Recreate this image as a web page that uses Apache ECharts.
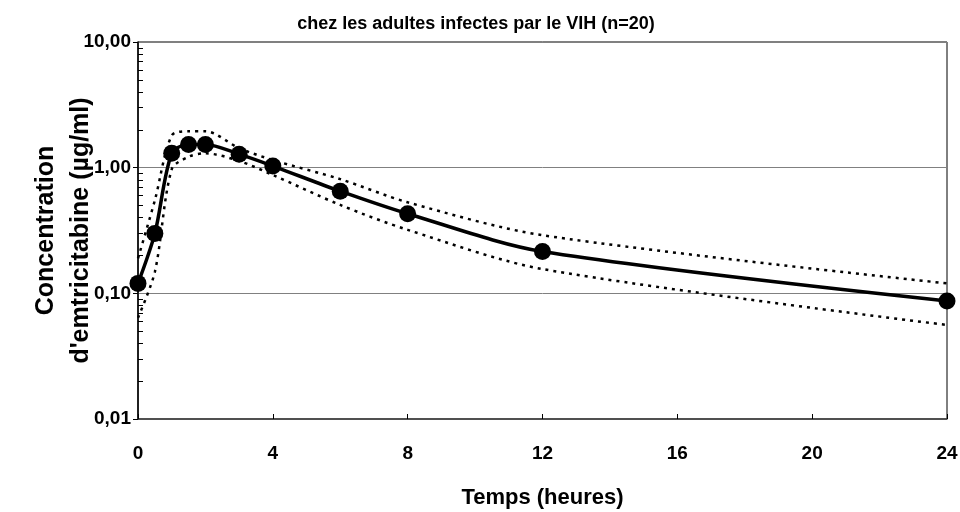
<!DOCTYPE html>
<html>
<head>
<meta charset="utf-8">
<script src="https://cdn.jsdelivr.net/npm/echarts@6/dist/echarts.min.js"></script>
<style>html,body{margin:0;padding:0;background:#fff;}#c{width:960px;height:512px;}</style>
</head>
<body>
<div id="c"></div>
<script>
var times = [0, 0.5, 1, 1.5, 2, 3, 4, 6, 8, 12, 24];
var meanConc = [0.12, 0.30, 1.30, 1.53, 1.53, 1.28, 1.03, 0.65, 0.43, 0.215, 0.087];
var upperConc = [0.19, 0.55, 1.80, 1.95, 1.95, 1.43, 1.15, 0.81, 0.53, 0.29, 0.12];
var lowerConc = [0.064, 0.148, 0.97, 1.22, 1.30, 1.13, 0.875, 0.505, 0.32, 0.156, 0.056];
var xTicks = [0, 4, 8, 12, 16, 20, 24];
var yMinorTicks = [0.02,0.03,0.04,0.05,0.06,0.07,0.08,0.09,0.2,0.3,0.4,0.5,0.6,0.7,0.8,0.9,2,3,4,5,6,7,8,9];

var FONT = "'Liberation Sans', Arial, sans-serif";
function pairs(vals){ return times.map(function(t,i){ return [t, vals[i]]; }); }

var chart = echarts.init(document.getElementById('c'), null, {renderer:'canvas'});
chart.setOption({
  animation: false,
  backgroundColor: '#fff',
  title: {
    text: 'chez les adultes infectes par le VIH (n=20)',
    left: 471, top: 10, textAlign: 'center',
    textStyle: {fontFamily: FONT, fontWeight: 'bold', fontSize: 18, color: '#000'}
  },
  grid: {left: 138, right: 13, top: 42, bottom: 93, show: true, borderColor: '#000', borderWidth: 1,
    backgroundColor: 'transparent', containLabel: false, outerBoundsMode: 'none'},
  xAxis: {
    type: 'value', min: 0, max: 24, interval: 4,
    axisLine: {onZero: false, lineStyle: {color: '#404040', width: 1.5}},
    axisTick: {inside: true, length: 5, lineStyle: {color: '#000'}},
    axisLabel: {margin: 25, fontFamily: FONT, fontWeight: 'bold', fontSize: 19, color: '#000',
      customValues: xTicks},
    splitLine: {show: false},
    name: 'Temps (heures)', nameLocation: 'middle', nameGap: 68, nameMoveOverlap: false,
    nameTextStyle: {fontFamily: FONT, fontWeight: 'bold', fontSize: 22, color: '#000'}
  },
  yAxis: [{
    type: 'log', logBase: 10, min: 0.01, max: 10,
    axisLine: {show: true, lineStyle: {color: '#000', width: 1.5}},
    axisTick: {show: true, inside: false, length: 5, lineStyle: {color: '#000'}},
    axisLabel: {margin: 7, fontFamily: FONT, fontWeight: 'bold', fontSize: 19, color: '#000',
      formatter: function(v){ return v.toFixed(2).replace('.', ','); }},
    splitLine: {show: true, lineStyle: {color: '#808080', width: 1}},
    name: 'Concentration\nd\'emtricitabine (\u00b5g/ml)', nameLocation: 'middle', nameGap: 39,
    nameMoveOverlap: false,
    nameTextStyle: {fontFamily: FONT, fontWeight: 'bold', fontSize: 25, lineHeight: 35, color: '#000'}
  }, {
    type: 'value', min: -2, max: 1, position: 'left',
    axisLine: {show: false, onZero: false},
    axisTick: {show: true, inside: true, length: 5, lineStyle: {color: '#000'},
      customValues: yMinorTicks.map(function(v){ return Math.log10(v); })},
    axisLabel: {show: false},
    splitLine: {show: false}
  }],
  series: [{
    name: 'upper', type: 'line', data: pairs(upperConc), smooth: 0.3, symbol: 'none',
    lineStyle: {color: '#000', width: 2.5, type: [3, 5]}, z: 2
  }, {
    name: 'lower', type: 'line', data: pairs(lowerConc), smooth: 0.3, symbol: 'none',
    lineStyle: {color: '#000', width: 2.5, type: [3, 5]}, z: 2
  }, {
    name: 'mean', type: 'line', data: pairs(meanConc), smooth: 0.3,
    symbol: 'circle', symbolSize: 17, itemStyle: {color: '#000'},
    lineStyle: {color: '#000', width: 3.5}, z: 3
  }]
});
</script>
</body>
</html>
